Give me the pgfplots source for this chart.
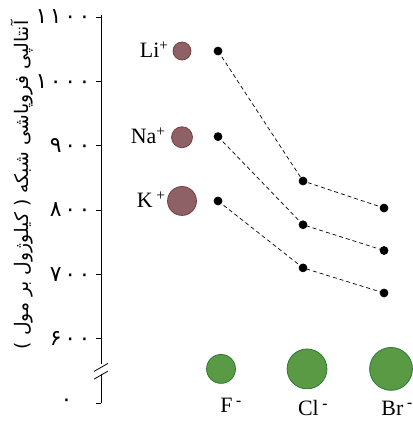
\documentclass[border=0pt]{standalone}
\usepackage{pgfplots}
\pgfplotsset{compat=1.18}
\usepackage{fontspec}
\setmainfont{Liberation Serif}
\TeXXeTstate=1
\newfontfamily\arabicfont[Script=Arabic]{DejaVu Sans}
\newfontfamily\digitfont[LetterSpace=12]{DejaVu Sans}
\definecolor{cat}{RGB}{142,97,103}
\definecolor{catd}{RGB}{120,60,62}
\definecolor{ani}{RGB}{91,154,68}
\definecolor{anid}{RGB}{40,120,55}
\begin{document}
\begin{tikzpicture}
\begin{axis}[
 scale only axis, width=311bp, height=388bp,
 xmin=101, xmax=412, ymin=500, ymax=1103,
 clip=false,
 axis x line=none,
 axis y line*=left,
 y axis line style={-, line width=0.8pt},
 ytick={500,600,...,1100},
 yticklabels={۰\mbox{}\hspace{18bp}\mbox{},۶۰۰,۷۰۰,۸۰۰,۹۰۰,۱۰۰۰,۱۱۰۰},
 yticklabel style={font=\fontsize{22}{22}\selectfont\digitfont, xshift=-2bp},
 tick align=outside, major tick length=5bp,
 tick style={line width=0.8pt, black},
]
% cation circles
\addplot[only marks, mark=*, mark size=9, mark options={fill=cat, draw=catd, line width=0.8pt}] coordinates {(182,1047)};
\addplot[only marks, mark=*, mark size=10.5, mark options={fill=cat, draw=catd, line width=0.8pt}] coordinates {(182,913)};
\addplot[only marks, mark=*, mark size=14.5, mark options={fill=cat, draw=catd, line width=0.8pt}] coordinates {(182,814)};
% anion circles
\addplot[only marks, mark=*, mark size=14.5, mark options={fill=ani, draw=anid, line width=0.8pt}] coordinates {(221,553)};
\addplot[only marks, mark=*, mark size=20, mark options={fill=ani, draw=anid, line width=0.8pt}] coordinates {(307,553)};
\addplot[only marks, mark=*, mark size=21.5, mark options={fill=ani, draw=anid, line width=0.8pt}] coordinates {(391,553)};
% lattice enthalpy series
\addplot[black, line width=0.7pt, dash pattern=on 4pt off 3pt, mark=*, mark size=4, mark options={solid}] coordinates {(218,1047)(303,845)(384,803)};
\addplot[black, line width=0.7pt, dash pattern=on 4pt off 3pt, mark=*, mark size=4, mark options={solid}] coordinates {(218,914)(303,777)(384,737)};
\addplot[black, line width=0.7pt, dash pattern=on 4pt off 3pt, mark=*, mark size=4, mark options={solid}] coordinates {(218,814)(303,710)(384,671)};
% labels
\node[anchor=east, font=\fontsize{22}{24}\selectfont] at (axis cs:172,1049) {Li\textsuperscript{+}};
\node[anchor=east, font=\fontsize{22}{24}\selectfont] at (axis cs:169,915) {Na\textsuperscript{+}};
\node[anchor=east, font=\fontsize{22}{24}\selectfont] at (axis cs:169,816) {K\,\textsuperscript{+}};
\node[font=\fontsize{22}{24}\selectfont] at (axis cs:231,496) {F\,\textsuperscript{\textbf{-}}};
\node[font=\fontsize{22}{24}\selectfont] at (axis cs:313,492) {Cl\,\textsuperscript{\textbf{-}}};
\node[font=\fontsize{22}{24}\selectfont] at (axis cs:397,492) {Br\,\textsuperscript{\textbf{-}}};
\node[rotate=90, font=\fontsize{18.8}{21}\selectfont\arabicfont] at (axis cs:22,839) {\beginR آنتالپی فروپاشی شبکه ( کیلوژول بر مول )\endR};
% axis break
\fill[white] ([shift={(-2bp,-5bp)}]axis cs:101,553) rectangle ([shift={(2bp,5bp)}]axis cs:101,553);
\draw[line width=0.8pt] ([shift={(-7bp,-7bp)}]axis cs:101,560) -- ([shift={(7bp,1bp)}]axis cs:101,560);
\draw[line width=0.8pt] ([shift={(-7bp,-7bp)}]axis cs:101,548) -- ([shift={(7bp,1bp)}]axis cs:101,548);
\coordinate (BL) at (axis cs:0,470.5);
\coordinate (TR) at (axis cs:412,1126.3);
\end{axis}
\pgfresetboundingbox
\path (BL) rectangle (TR);
\end{tikzpicture}
\end{document}
